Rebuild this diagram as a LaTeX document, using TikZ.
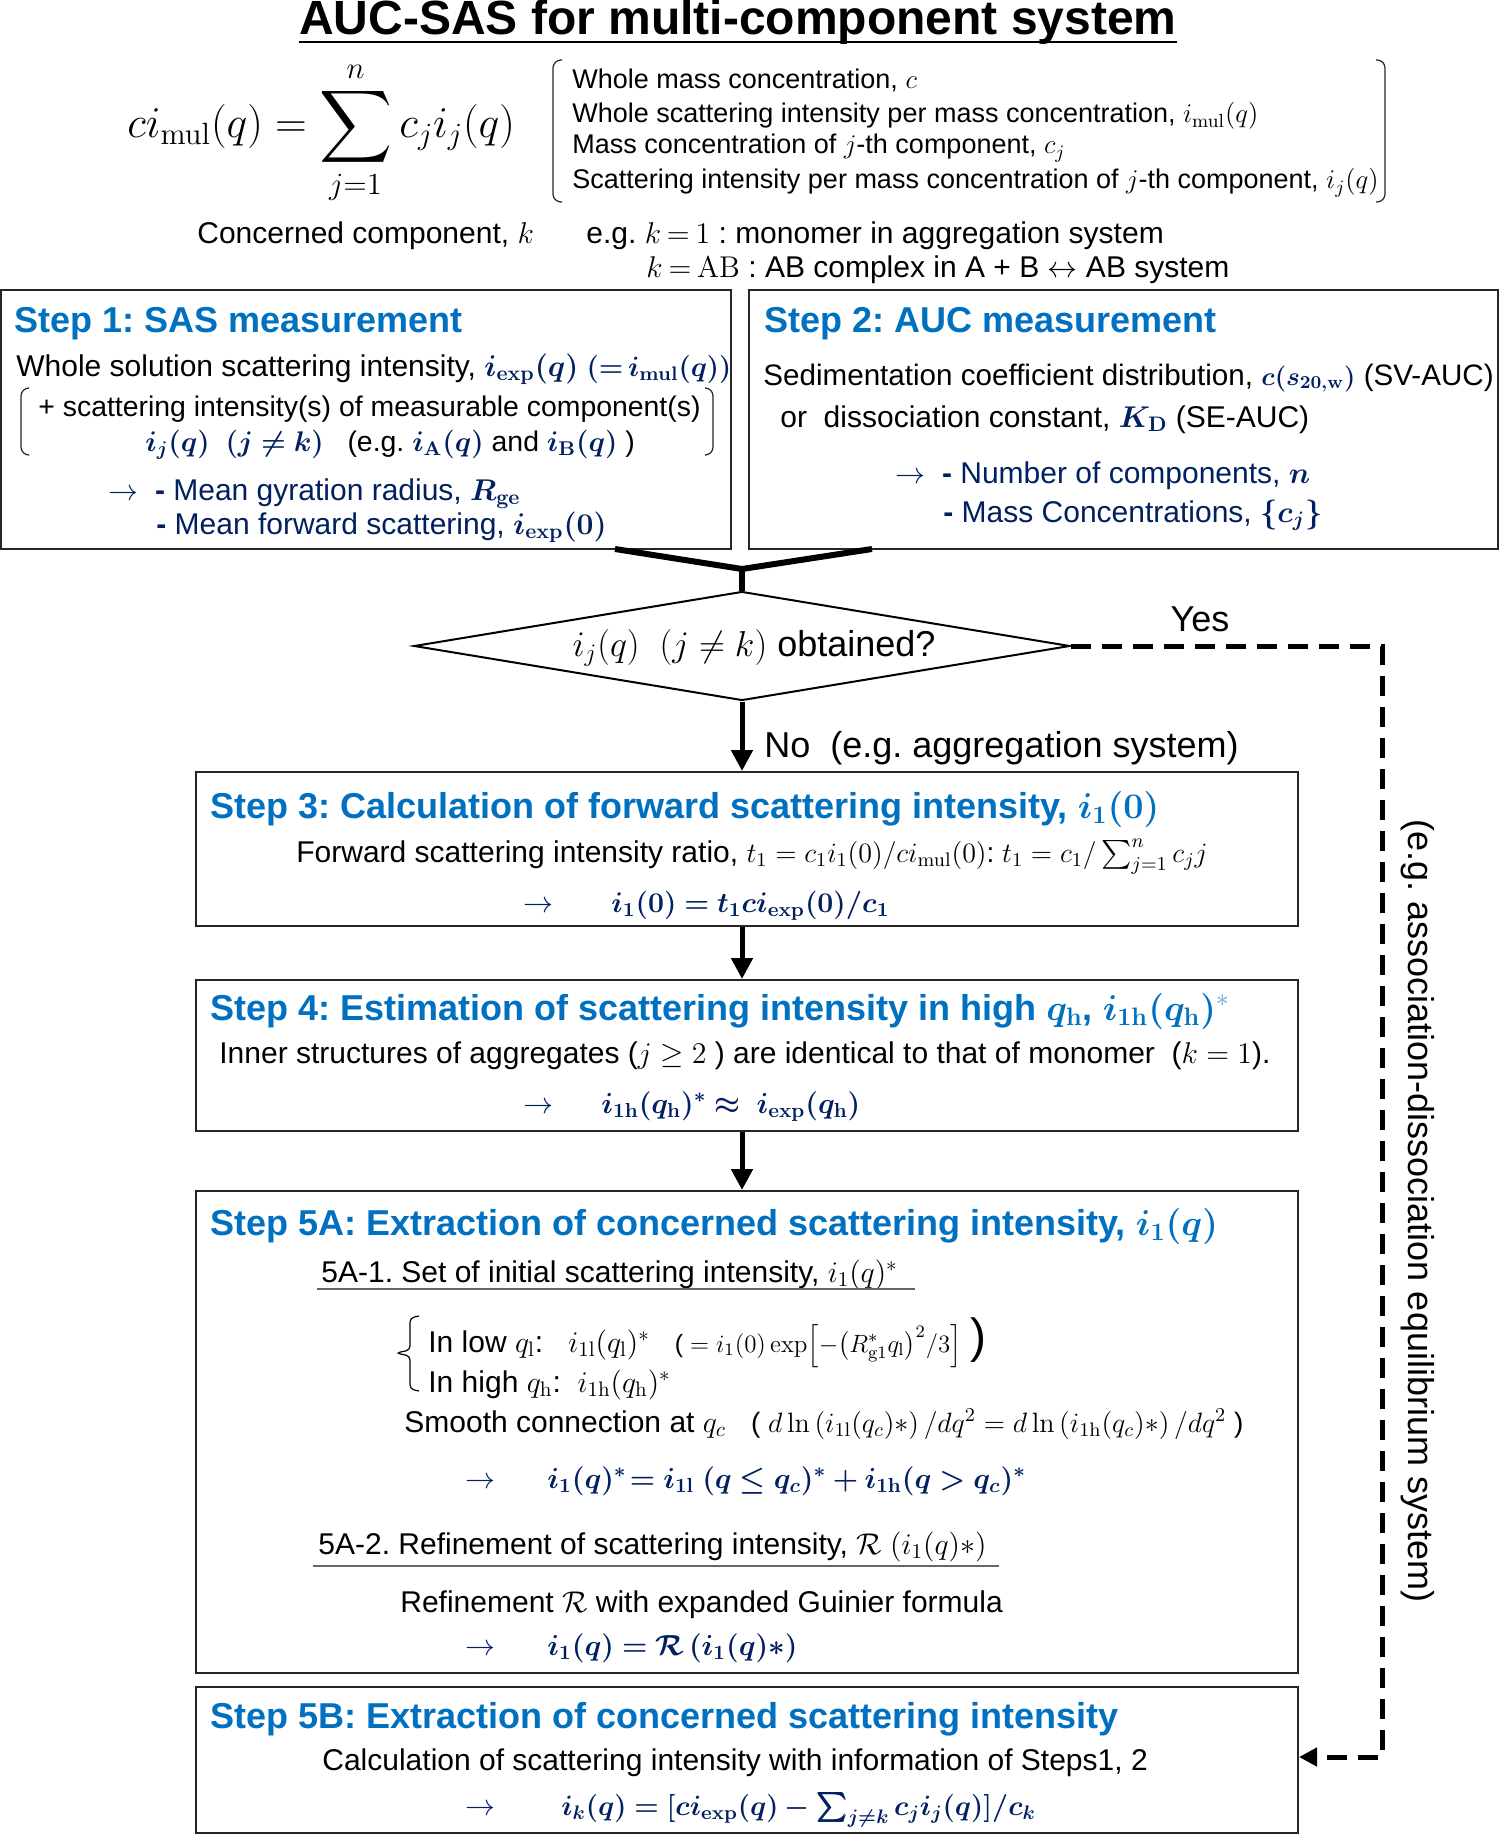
\RequirePackage{fix-cm}
\documentclass[tikz,border=0pt]{standalone}
\usepackage[no-math]{fontspec}
\setmainfont{Liberation Sans}
\usepackage{amsmath,bm}
\usetikzlibrary{arrows.meta,shapes.geometric}
\frenchspacing
\definecolor{hblue}{RGB}{0,112,192}
\definecolor{lblue}{RGB}{90,160,220}
\definecolor{navy}{RGB}{0,32,96}
\definecolor{boxgray}{RGB}{38,38,38}
\newcommand{\nv}[1]{\textcolor{navy}{#1}}
\newcommand{\bigsum}{\mathop{\vcenter{\hbox{\scalebox{1.22}{$\displaystyle\sum$}}}}\limits}
\tikzset{
  box/.style={draw=boxgray, line width=1pt, rectangle, inner sep=0pt},
  hd/.style={anchor=base west, inner sep=0pt, font=\fontsize{18}{21}\selectfont\bfseries, text=hblue},
  bd/.style={anchor=base west, inner sep=0pt, font=\fontsize{15}{18}\selectfont},
  bds/.style={anchor=base west, inner sep=0pt, font=\fontsize{14.2}{17}\selectfont},
  sm/.style={anchor=base west, inner sep=0pt, font=\fontsize{13.5}{16}\selectfont},
  fm/.style={anchor=base west, inner sep=0pt, font=\fontsize{14.5}{17}\selectfont, text=navy},
  lab/.style={inner sep=0pt, font=\fontsize{18}{21}\selectfont},
  brk/.style={draw=boxgray, line width=0.6pt, rounded corners=4pt},
  uline/.style={draw=gray!80!black, line width=0.8pt},
  flow/.style={-{Triangle[length=10.5pt,width=10.5pt]}, line width=2.5pt},
  yesline/.style={line width=2.5pt, dash pattern=on 10pt off 5.5pt, -{Triangle[length=9pt,width=9pt]}},
}
\begin{document}
\begin{tikzpicture}[x=0.5pt,y=-0.5pt]
\useasboundingbox[fill=white] (0,0) rectangle (1500,1835);

% title
\node[anchor=base, inner sep=0pt, font=\fontsize{24}{28}\selectfont\bfseries] (title) at (738,35) {AUC-SAS for multi-component system};
\draw[line width=1.3pt] ([yshift=-3.5pt]title.base west) -- ([yshift=-3.5pt]title.base east);

% main formula
\node[anchor=base west, inner sep=0pt, font=\fontsize{22}{26}\selectfont] (eq) at (127,138) {$\displaystyle c i_{\mathrm{mul}}(q)=\bigsum_{j=1}^{n}c_j i_j(q)$};

% bracket list
\draw[brk] (562,60) -- (553,60) -- (553,202) -- (562,202);
\draw[brk] (1376,60) -- (1385,60) -- (1385,202) -- (1376,202);
\node[sm] (l1) at (572,89) {Whole mass concentration, $c$};
\node[sm] (l2) at (572,123) {Whole scattering intensity per mass concentration, $i_{\mathrm{mul}}(q)$};
\node[sm] (l3) at (572,154) {Mass concentration of $j$-th component, $c_j$};
\node[sm] (l4) at (572,189) {Scattering intensity per mass concentration of $j$-th component, $i_j(q)$};

\node[bd] (cc) at (197,243) {Concerned component, $k$};
\node[bd] (eg1) at (586,243) {\thickmuskip=3.5mu e.g. $k=1$ : monomer in aggregation system};
\node[bd] (eg2) at (646,278) {\thickmuskip=3.5mu $k=\mathrm{AB}$ : AB complex in A + B $\leftrightarrow$ AB system};

% step 1 and 2 boxes
\node[box, minimum width=365pt, minimum height=129.5pt] (s1) at (366,419.5) {};
\node[box, minimum width=374.5pt, minimum height=129.5pt] (s2) at (1123.5,419.5) {};

\node[hd] (h1) at (14,332) {Step 1: SAS measurement};
\node[bd] (s1a) at (16,376) {Whole solution scattering intensity, \nv{$\bm{i_{\mathrm{exp}}(q)}$ {\fontsize{14}{16}\selectfont$\bm{({=}\,i_{\mathrm{mul}}(q))}$}}};
\draw[brk] (28,388) -- (21,388) -- (21,455) -- (28,455);
\draw[brk] (706,388) -- (713,388) -- (713,455) -- (706,455);
\node[bds] (s1b) at (38,416) {+ scattering intensity(s) of measurable component(s)};
\node[bds] (s1c) at (145,451) {\nv{$\bm{i_j(q)}$\ \ $\bm{(j\neq k)}$}\ \ \ (e.g. \nv{$\bm{i_\mathrm{A}(q)}$} and \nv{$\bm{i_\mathrm{B}(q)}$} )};
\node[bd, text=navy] (s1d) at (108,500) {$\rightarrow$\ \ \textbf{-} Mean gyration radius, $\bm{R_{\mathrm{ge}}}$};
\node[bd, text=navy] (s1e) at (156,534) {\textbf{-} Mean forward scattering, $\bm{i_{\mathrm{exp}}(0)}$};

\node[hd] (h2) at (764,332) {Step 2: AUC measurement};
\node[bd, font=\fontsize{14.8}{17}\selectfont] (s2a) at (763,385) {Sedimentation coefficient distribution, \nv{\fontsize{13}{15}\selectfont$\bm{c(s_{20,\mathrm{w}})}$} (SV-AUC)};
\node[bd] (s2b) at (780,427) {or\ \ dissociation constant, \nv{$\bm{K_\mathrm{D}}$} (SE-AUC)};
\node[bd, text=navy] (s2c) at (895,483) {$\rightarrow$\ \ \textbf{-} Number of components, $\bm{n}$};
\node[bd, text=navy] (s2d) at (943,522) {\textbf{-} Mass Concentrations, $\bm{\{c_j\}}$};

% junction and decision
\node[draw=black, diamond, aspect=6, minimum width=328pt, minimum height=54.5pt, inner sep=0pt, line width=1pt] (dia) at (742,646) {};
\node[lab, anchor=base] (diat) at (754,656) {$i_j(q)$\ \ $(j\neq k)$ obtained?};
\coordinate (J) at (742,569);
\coordinate (jl) at (615,549);
\coordinate (jr) at (872,549);
\draw[line width=3pt, line join=miter] (jl) -- (J) -- (jr);
\draw[line width=3pt] (J) -- (dia.north);

\node[lab, anchor=base] (yes) at (1200,631) {Yes};
\coordinate (c1) at (1382,646);
\coordinate (c2) at (1382,1757);

% lower boxes
\node[box, minimum width=551pt, minimum height=77pt] (s3) at (747,849) {};
\node[box, minimum width=551pt, minimum height=75.5pt] (s4) at (747,1055.5) {};
\node[box, minimum width=551pt, minimum height=241pt] (s5a) at (747,1432) {};
\node[box, minimum width=551pt, minimum height=73pt] (s5b) at (747,1760) {};

\draw[yesline] (dia.east) -- (c1) -- (c2) -- (c2 -| s5b.east);
\node[lab, rotate=-90, anchor=center] (assoc) at (1418,1211) {(e.g. association-dissociation equilibrium system)};

\draw[flow] (dia.south) -- (dia.south |- s3.north);
\node[lab, anchor=base west] (no) at (764,757) {No\ \ (e.g. aggregation system)};
\draw[flow] (s3.south -| dia.south) -- (s4.north -| dia.south);
\draw[flow] (s4.south -| dia.south) -- (s5a.north -| dia.south);

% step 3
\node[hd] (h3) at (210,818) {Step 3: Calculation of forward scattering intensity, $\bm{i_1(0)}$};
\node[bd] (s3a) at (296,862) {Forward scattering intensity ratio, {\fontsize{14}{16}\selectfont$t_1=c_1 i_1(0)/c i_{\mathrm{mul}}(0)$:\ $t_1=c_1/\sum_{j=1}^{n}c_j j$}};
\node[bd, text=navy] (s3b) at (523,912) {$\rightarrow$};
\node[fm, font=\fontsize{14.2}{17}\selectfont] (s3c) at (611,912) {$\bm{i_1(0)=t_1 c i_{\mathrm{exp}}(0)/c_1}$};

% step 4
\node[hd] (h4) at (210,1020) {Step 4: Estimation of scattering intensity in high $\bm{q_\mathrm{h}}$, $\bm{i_{1\mathrm{h}}(q_\mathrm{h})}^{\textcolor{lblue}{*}}$};
\node[bd] (s4a) at (219,1063) {Inner structures of aggregates ($j\geq 2$ ) are identical to that of monomer\ \ ($k=1$).};
\node[bd, text=navy] (s4b) at (523,1113) {$\rightarrow$};
\node[fm] (s4c) at (601,1113) {$\bm{i_{1\mathrm{h}}(q_\mathrm{h})^*\approx\ i_{\mathrm{exp}}(q_\mathrm{h})}$};

% step 5A
\node[hd] (h5a) at (210,1235) {Step 5A: Extraction of concerned scattering intensity, $\bm{i_1(q)}$};
\node[bd] (a1) at (321,1282) {5A-1. Set of initial scattering intensity, $i_1(q)^*$};
\draw[uline] (317,1289) -- (915,1289);
\draw[line width=0.6pt, rounded corners=2pt] (419,1316) -- (410,1318) -- (410,1350) -- (396,1353) -- (410,1356) -- (410,1389) -- (419,1391);
\node[bd] (a2) at (428,1352) {In low $q_\mathrm{l}$:\ \ \ $i_{1\mathrm{l}}(q_\mathrm{l})^*$\ \ \ {\fontsize{12.5}{15}\selectfont ( $=i_1(0)\exp\Bigl[-\bigl(R^*_{\mathrm{g}1}q_\mathrm{l}\bigr)^2/3\Bigr]$} {\fontsize{24}{26}\selectfont )}};
\node[bd] (a3) at (428,1392) {In high $q_\mathrm{h}$:\ \ $i_{1\mathrm{h}}(q_\mathrm{h})^*$};
\node[bd] (a4) at (404,1432) {Smooth connection at $q_c$\ \ \ {\fontsize{14}{16}\selectfont( $d\ln\left(i_{1\mathrm{l}}(q_c)*\right)/dq^2 = d\ln\left(i_{1\mathrm{h}}(q_c)*\right)/dq^2$ )}};
\node[bd, text=navy] (a5) at (465,1488) {$\rightarrow$};
\node[fm] (a6) at (547,1488) {$\bm{i_1(q)^*\!= i_{1\mathrm{l}}\ (q\leq q_c)^* + i_{1\mathrm{h}}(q>q_c)^*}$};
\node[bd] (a7) at (318,1554) {5A-2. Refinement of scattering intensity, $\mathcal{R}\ (i_1(q)*)$};
\draw[uline] (313,1566) -- (999,1566);
\node[bd] (a8) at (400,1612) {Refinement $\mathcal{R}$ with expanded Guinier formula};
\node[bd, text=navy] (a9) at (465,1655) {$\rightarrow$};
\node[fm] (a10) at (547,1655) {$\bm{i_1(q)=\mathcal{R}\,(i_1(q)*)}$};

% step 5B
\node[hd] (h5b) at (210,1728) {Step 5B: Extraction of concerned scattering intensity};
\node[bd] (b1) at (322,1770) {Calculation of scattering intensity with information of Steps1, 2};
\node[bd, text=navy] (b2) at (465,1815) {$\rightarrow$};
\node[fm, font=\fontsize{14}{16}\selectfont] (b3) at (561,1815) {$\bm{i_k(q)=[c i_{\mathrm{exp}}(q)-\sum_{j\neq k}c_j i_j(q)]/c_k}$};
\end{tikzpicture}
\end{document}
